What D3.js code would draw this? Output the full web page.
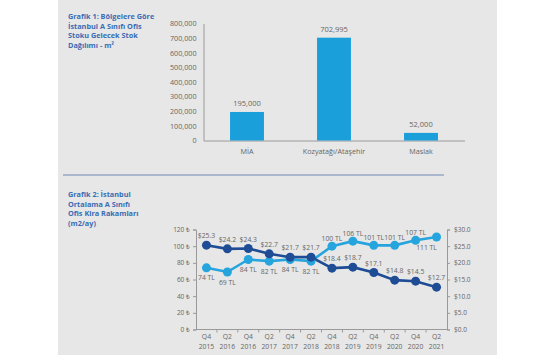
<!DOCTYPE html>
<html><head><meta charset="utf-8">
<script src="https://cdn.jsdelivr.net/npm/d3@7"></script>
<style>
body{margin:0;background:#fff;}
svg{display:block;font-family:"Open Sans",sans-serif;}
</style></head>
<body><svg id="c" width="555" height="355"></svg>
<script>
// Chart 1 data
const regions = ["MİA", "Kozyatağı/Ataşehir", "Maslak"];
const stock = [195000, 702995, 52000];
const stockTicks = [0,100000,200000,300000,400000,500000,600000,700000,800000];
// Chart 2 data
const periods = ["Q4|2015","Q2|2016","Q4|2016","Q2|2017","Q4|2017","Q2|2018","Q4|2018","Q2|2019","Q4|2019","Q2|2020","Q4|2020","Q2|2021"];
const rentTL = [74, 69, 84, 82, 84, 82, 100, 106, 101, 101, 107, 111];
const rentUSD = [25.3, 24.2, 24.3, 22.7, 21.7, 21.7, 18.4, 18.7, 17.1, 14.8, 14.5, 12.7];
const tlLabelBelow = [true,true,true,true,true,true,false,false,false,false,false,true];
const leftTicks = [0,20,40,60,80,100,120];
const rightTicks = [0,5,10,15,20,25,30];
const title1 = ["Grafik 1: Bölgelere Göre","İstanbul A Sınıfı Ofis","Stoku Gelecek Stok","Dağılımı - m²"];
const title2 = ["Grafik 2: İstanbul","Ortalama A Sınıfı","Ofis Kira Rakamları","(m2/ay)"];

const svg = d3.select("#c");
const axisCol = "#9a9a9a", txtCol = "#666";
svg.append("rect").attr("x",58).attr("y",0).attr("width",439).attr("height",355).attr("fill","#e7e7e7");

// titles
const tcol = "#3b6cb4";
svg.append("text").attr("x",68).attr("y",19).attr("fill",tcol).attr("font-size",7.3).attr("font-weight",700)
  .selectAll("tspan").data(title1).join("tspan").attr("x",68).attr("dy",(d,i)=>i?9.7:0).text(d=>d);
svg.append("text").attr("x",68).attr("y",197).attr("fill",tcol).attr("font-size",7.3).attr("font-weight",700)
  .selectAll("tspan").data(title2).join("tspan").attr("x",68).attr("dy",(d,i)=>i?9.7:0).text(d=>d);

// separator
svg.append("line").attr("x1",63).attr("x2",444).attr("y1",175).attr("y2",175).attr("stroke","#6f87b3").attr("stroke-width",1);

// ---- Chart 1
const x1 = d3.scaleBand().domain(regions).range([203.5,464.5]).paddingInner(0.61).paddingOuter(0.305);
const y1 = d3.scaleLinear().domain([0,800000]).range([140.5,23.5]);
const g1 = svg.append("g");
g1.append("g").attr("transform","translate(203.5,0)")
  .call(d3.axisLeft(y1).tickValues(stockTicks).tickSize(0).tickPadding(7).tickFormat(d3.format(",")))
  .call(g=>{g.select(".domain").attr("stroke",axisCol);g.selectAll("text").attr("fill",txtCol).attr("font-size",7.2).attr("font-family","Open Sans");});
g1.append("g").attr("transform","translate(0,140.5)")
  .call(d3.axisBottom(x1).tickSize(0).tickPadding(8))
  .call(g=>{g.select(".domain").attr("stroke",axisCol);g.selectAll("text").attr("fill",txtCol).attr("font-size",7.2).attr("font-family","Open Sans");});
g1.selectAll("rect.bar").data(regions).join("rect").attr("class","bar")
  .attr("x",d=>x1(d)).attr("width",x1.bandwidth())
  .attr("y",(d,i)=>y1(stock[i])).attr("height",(d,i)=>y1(0)-y1(stock[i]))
  .attr("fill","#1b9fdb");
g1.selectAll("text.val").data(regions).join("text").attr("class","val")
  .attr("x",d=>x1(d)+x1.bandwidth()/2).attr("y",(d,i)=>y1(stock[i])-6)
  .attr("text-anchor","middle").attr("font-size",7.5).attr("fill",txtCol)
  .text((d,i)=>d3.format(",")(stock[i]));

// ---- Chart 2
const x2 = d3.scaleBand().domain(periods).range([196,447]);
const yL = d3.scaleLinear().domain([0,120]).range([329.5,229.5]);
const yR = d3.scaleLinear().domain([0,30]).range([329.5,229.5]);
const g2 = svg.append("g");
g2.append("g").attr("transform","translate(196,0)")
  .call(d3.axisLeft(yL).tickValues(leftTicks).tickSize(3).tickPadding(3).tickFormat(d=>d+" ₺"))
  .call(g=>{g.select(".domain").attr("stroke",axisCol);g.selectAll("line").attr("stroke",axisCol);g.selectAll("text").attr("fill",txtCol).attr("font-size",6.5).attr("font-family","Open Sans");});
g2.append("g").attr("transform","translate(447,0)")
  .call(d3.axisRight(yR).tickValues(rightTicks).tickSize(3).tickPadding(4).tickFormat(d=>"$"+d.toFixed(1)))
  .call(g=>{g.select(".domain").attr("stroke",axisCol);g.selectAll("line").attr("stroke",axisCol);g.selectAll("text").attr("fill",txtCol).attr("font-size",6.5).attr("font-family","Open Sans");});
// bottom axis: line with ticks at band boundaries
const xb = g2.append("g").attr("transform","translate(0,329.5)");
xb.append("line").attr("x1",196).attr("x2",447).attr("stroke",axisCol);
xb.selectAll("line.tk").data(periods.slice(1)).join("line").attr("class","tk")
  .attr("x1",d=>x2(d)).attr("x2",d=>x2(d)).attr("y1",0).attr("y2",3).attr("stroke",axisCol);
const xl = xb.selectAll("text.xl").data(periods).join("text").attr("class","xl")
  .attr("text-anchor","middle").attr("font-size",6.8).attr("fill",txtCol);
xl.append("tspan").attr("x",d=>x2(d)+x2.bandwidth()/2).attr("y",9.5).text(d=>d.split("|")[0]);
xl.append("tspan").attr("x",d=>x2(d)+x2.bandwidth()/2).attr("y",19.5).text(d=>d.split("|")[1]);

const cx = d=>x2(d)+x2.bandwidth()/2;
const light = "#26a4dd", dark = "#1e4c95";
const lineL = d3.line().x((d,i)=>cx(periods[i])).y(d=>yL(d));
const lineR = d3.line().x((d,i)=>cx(periods[i])).y(d=>yR(d));
g2.append("path").datum(rentTL).attr("d",lineL).attr("fill","none").attr("stroke",light).attr("stroke-width",2.6);
g2.append("path").datum(rentUSD).attr("d",lineR).attr("fill","none").attr("stroke",dark).attr("stroke-width",2.6);
g2.selectAll("circle.l").data(rentTL).join("circle").attr("class","l")
  .attr("cx",(d,i)=>cx(periods[i])).attr("cy",d=>yL(d)).attr("r",4.5).attr("fill",light);
g2.selectAll("circle.r").data(rentUSD).join("circle").attr("class","r")
  .attr("cx",(d,i)=>cx(periods[i])).attr("cy",d=>yR(d)).attr("r",4.5).attr("fill",dark);
g2.selectAll("text.lt").data(rentTL).join("text").attr("class","lt")
  .attr("x",(d,i)=>cx(periods[i])-(i===11?10:0)).attr("y",(d,i)=>yL(d)+(tlLabelBelow[i]?12.5:-5.5))
  .attr("text-anchor","middle").attr("font-size",6.8).attr("fill",txtCol).text(d=>d+" TL");
g2.selectAll("text.rt").data(rentUSD).join("text").attr("class","rt")
  .attr("x",(d,i)=>cx(periods[i])).attr("y",d=>yR(d)-7)
  .attr("text-anchor","middle").attr("font-size",6.8).attr("fill",txtCol).text(d=>"$"+d.toFixed(1));
</script></body></html>
